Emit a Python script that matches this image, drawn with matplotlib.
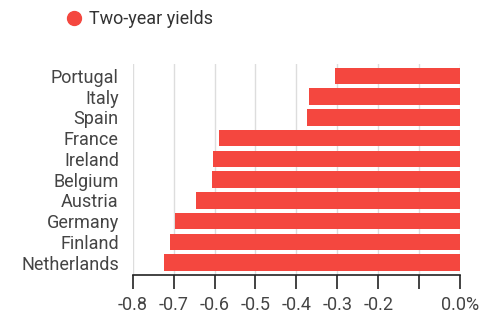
import matplotlib
matplotlib.use("Agg")
import matplotlib.pyplot as plt
from matplotlib.lines import Line2D

countries = ["Portugal", "Italy", "Spain", "France", "Ireland",
             "Belgium", "Austria", "Germany", "Finland", "Netherlands"]
yields = [-0.306, -0.368, -0.374, -0.588, -0.603,
          -0.606, -0.645, -0.697, -0.708, -0.724]
ticks = [-0.8, -0.7, -0.6, -0.5, -0.4, -0.3, -0.2, -0.1, 0.0]
tick_labels = ["-0.8", "-0.7", "-0.6", "-0.5", "-0.4", "-0.3", "-0.2", "", "0.0%"]

plt.rcParams['font.family'] = ['Roboto', 'DejaVu Sans']
red = "#f4473f"

fig = plt.figure(figsize=(5, 3.22), dpi=100)
ax = fig.add_axes([0.2654, 0.146, 0.6546, 0.654])

# Netherlands at the bottom
pos = list(range(len(countries)))[::-1]
ax.barh(pos, yields, height=0.8, color=red, zorder=3)

ax.set_xlim(-0.8, 0.0)
ax.set_ylim(-0.6, 9.56)
ax.set_xticks(ticks)
ax.set_xticklabels(tick_labels, fontsize=13, color="#444444")
ax.set_yticks(pos)
ax.set_yticklabels(countries, fontsize=13, color="#444444")
ax.tick_params(axis="y", length=0, pad=10)
ax.tick_params(axis="x", length=10, width=1.2, color="#222222", pad=5)
ax.grid(axis="x", color="#dddddd", linewidth=1, zorder=0)
for s in ["top", "right", "left"]:
    ax.spines[s].set_visible(False)
ax.spines["bottom"].set_color("#222222")
ax.spines["bottom"].set_linewidth(1.2)
ax.spines["bottom"].set_zorder(4)

handle = Line2D([], [], marker="o", linestyle="", markersize=10,
                markerfacecolor=red, markeredgecolor=red)
fig.legend([handle], ["Two-year yields"], loc="center left",
           bbox_to_anchor=(0.08, 0.94), frameon=False, fontsize=13,
           handletextpad=-0.2, labelcolor="#333333")

fig.savefig("out.png", dpi=100)
